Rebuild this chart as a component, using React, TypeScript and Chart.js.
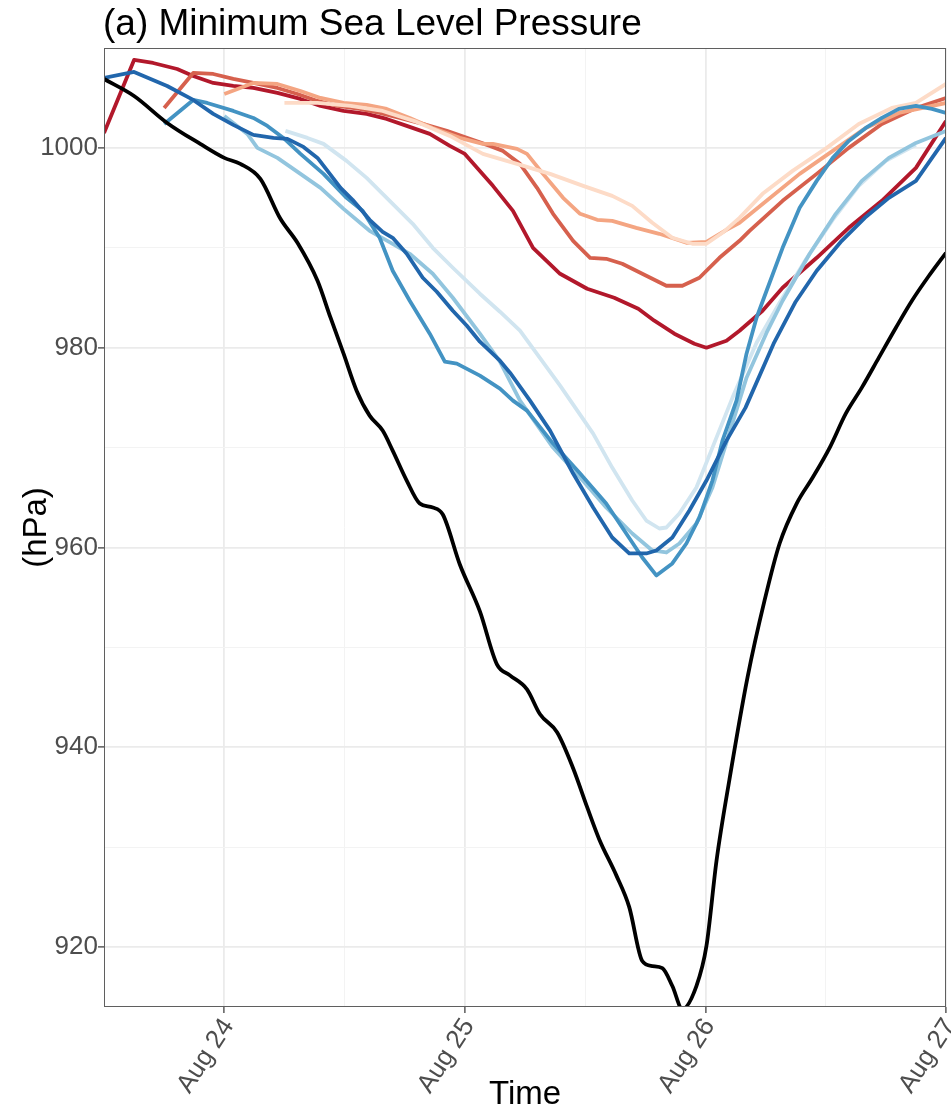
import React, { useEffect, useRef } from 'react';
import { Chart, registerables } from 'chart.js';

Chart.register(...registerables);

// ---------- data (hours relative to Aug 24 00:00, MSLP in hPa) ----------
const xTickHours = [0, 24, 48, 72];
const xTickLabels = ['Aug 24', 'Aug 25', 'Aug 26', 'Aug 27'];
const yTickValues = [920, 940, 960, 980, 1000];

const obsHours = [-12, -9, -5.7, -2.4, 0, 1.6, 3.6, 5.6, 7.3, 9.3, 10.6, 11.9, 13.2, 14.5, 15.8, 16.8, 18.2, 19.5, 20.8, 21.8, 23.5, 25.5, 27.2, 28.5, 30.2, 31.5, 33.2, 34.8, 36.2, 37.4, 39.1, 40.4, 41.7, 42.7, 43.7, 44.7, 45.7, 47.1, 48.1, 49.1, 50.4, 52.2, 53.9, 55.4, 57.1, 58.7, 60.4, 62.0, 63.6, 65.3, 67.0, 68.6, 70.3, 72];
const obsMslp = [1006.9, 1005.2, 1002.5, 1000.4, 999.0, 998.4, 996.9, 992.9, 990.5, 986.7, 983.0, 979.4, 975.7, 973.2, 971.7, 969.7, 966.7, 964.4, 964.0, 963.3, 958.3, 953.6, 948.3, 947.2, 945.8, 943.3, 941.5, 937.9, 934.0, 930.8, 927.2, 924.0, 918.6, 918.1, 917.9, 916.1, 913.8, 916.1, 920.1, 928.6, 936.8, 947.0, 954.7, 960.4, 964.4, 967.0, 970.0, 973.4, 976.0, 979.0, 982.0, 984.7, 987.2, 989.5];

const darkRedHours = [-12, -9, -7.1, -4.7, -3.1, -1.1, 0.9, 2.9, 5.3, 7.6, 9.6, 11.9, 14.2, 16.2, 18.2, 20.5, 22.5, 24.0, 26.8, 28.8, 30.8, 33.5, 36.2, 38.9, 41.3, 42.9, 44.9, 46.9, 48.1, 50.1, 51.4, 53.7, 55.7, 59.1, 62.3, 65.6, 69.0, 72];
const darkRedMslp = [1001.5, 1008.8, 1008.5, 1007.9, 1007.2, 1006.5, 1006.2, 1006.0, 1005.5, 1004.9, 1004.2, 1003.7, 1003.4, 1002.9, 1002.2, 1001.4, 1000.2, 999.4, 996.2, 993.7, 990.0, 987.4, 985.9, 985.0, 983.9, 982.7, 981.4, 980.4, 980.0, 980.7, 981.7, 983.7, 986.0, 989.0, 992.0, 994.7, 998.0, 1002.7];

const midRedHours = [-6, -3.1, -1.1, 0.9, 2.9, 5.3, 7.3, 9.3, 11.3, 13.5, 15.5, 17.5, 19.8, 22.2, 24.2, 26.5, 27.8, 29.5, 31.2, 32.8, 34.8, 36.5, 38.1, 39.7, 42.1, 44.1, 45.7, 47.4, 49.4, 51.4, 52.4, 55.7, 59.1, 62.3, 65.6, 69.0, 72];
const midRedMslp = [1004.0, 1007.5, 1007.4, 1006.9, 1006.5, 1006.0, 1005.4, 1004.7, 1004.2, 1003.9, 1003.5, 1003.0, 1002.4, 1001.7, 1001.0, 1000.2, 999.7, 998.4, 996.0, 993.4, 990.7, 989.0, 988.9, 988.4, 987.2, 986.2, 986.2, 987.0, 989.0, 990.7, 991.7, 994.7, 997.4, 1000.0, 1002.4, 1004.0, 1005.0];

const lightRedHours = [0, 2.9, 5.3, 7.6, 9.6, 11.9, 14.2, 16.2, 18.5, 20.8, 23.5, 25.8, 26.8, 29.2, 30.2, 31.8, 33.8, 35.5, 37.2, 38.7, 41.1, 43.4, 46.1, 48.1, 50.1, 51.4, 54.1, 57.4, 60.7, 64.0, 67.3, 72];
const lightRedMslp = [1005.4, 1006.5, 1006.4, 1005.7, 1005.0, 1004.5, 1004.3, 1003.9, 1003.0, 1002.0, 1001.0, 1000.4, 1000.4, 999.9, 999.4, 997.4, 995.0, 993.4, 992.8, 992.7, 992.0, 991.4, 990.5, 990.6, 991.8, 992.5, 994.7, 997.4, 999.7, 1002.0, 1003.5, 1004.5];

const palestRedHours = [6, 9.3, 12.6, 15.8, 19.2, 22.5, 25.8, 29.2, 32.5, 35.8, 38.7, 40.7, 42.7, 44.7, 46.7, 48.1, 49.7, 51.4, 53.7, 56.7, 60.1, 63.3, 66.6, 69.0, 72];
const palestRedMslp = [1004.5, 1004.5, 1004.2, 1003.7, 1002.6, 1001.2, 999.4, 998.4, 997.4, 996.2, 995.2, 994.2, 992.5, 991.0, 990.4, 990.4, 991.5, 993.0, 995.4, 997.7, 1000.0, 1002.4, 1004.0, 1004.5, 1006.4];

const palestBlueHours = [6.1, 8.3, 9.9, 12.2, 14.2, 16.5, 18.8, 20.8, 22.8, 25.5, 27.5, 29.5, 33.5, 36.8, 38.7, 40.7, 42.1, 43.4, 44.1, 45.4, 47.1, 48.7, 50.7, 53.1, 55.4, 58.0, 60.7, 63.3, 66.0, 69.0];
const palestBlueMslp = [1001.7, 1001.0, 1000.4, 998.7, 997.0, 994.7, 992.4, 990.0, 988.0, 985.4, 983.6, 981.7, 976.2, 971.4, 968.0, 964.7, 962.7, 961.9, 962.0, 963.4, 966.0, 970.0, 975.0, 980.5, 984.5, 988.8, 992.8, 996.2, 998.7, 1000.3];

const lightBlueHours = [0, 0.9, 2.3, 3.3, 5.3, 7.6, 9.6, 11.9, 14.5, 16.8, 18.5, 20.8, 22.8, 25.5, 27.5, 29.5, 32.8, 35.5, 38.1, 40.7, 42.7, 44.1, 45.4, 47.1, 48.7, 50.4, 52.1, 54.1, 55.7, 58.4, 61.0, 63.6, 66.3, 69.0, 72];
const lightBlueMslp = [1003.2, 1002.5, 1001.4, 1000.0, 999.0, 997.4, 996.0, 993.9, 991.7, 990.4, 989.4, 987.4, 985.0, 981.4, 978.6, 974.7, 970.0, 967.0, 964.0, 961.4, 959.7, 959.5, 960.4, 962.4, 966.0, 971.5, 977.0, 981.5, 984.7, 989.4, 993.4, 996.7, 999.0, 1000.5, 1001.7];

const midBlueHours = [-6, -3.1, -1.7, 0.9, 2.9, 4.3, 5.9, 7.6, 9.9, 12.2, 13.8, 15.5, 16.8, 18.5, 20.5, 22.0, 23.2, 25.5, 27.5, 28.8, 30.2, 32.8, 35.5, 38.1, 40.1, 41.7, 43.1, 44.7, 46.1, 47.4, 48.7, 49.7, 51.1, 52.1, 53.1, 54.1, 55.7, 57.4, 59.1, 60.7, 62.3, 64.0, 65.6, 67.3, 69.0, 70.6, 72];
const midBlueMslp = [1002.4, 1004.8, 1004.5, 1003.7, 1003.0, 1002.2, 1001.0, 999.4, 997.4, 995.0, 993.7, 991.0, 987.7, 984.7, 981.4, 978.6, 978.4, 977.2, 975.9, 974.7, 973.7, 970.4, 967.4, 964.4, 961.4, 959.0, 957.2, 958.4, 960.4, 963.0, 966.7, 970.7, 974.7, 979.4, 983.0, 985.7, 990.0, 994.0, 996.7, 999.0, 1000.7, 1002.0, 1003.0, 1003.9, 1004.2, 1003.9, 1003.5];

const darkBlueHours = [-12, -9, -5.7, -3.1, -1.1, 0.9, 2.9, 4.9, 6.3, 7.9, 9.3, 10.3, 11.6, 12.8, 14.5, 15.8, 16.8, 18.2, 19.8, 21.2, 22.8, 24.2, 25.5, 27.5, 28.5, 30.5, 32.5, 34.8, 36.8, 38.7, 40.4, 42.1, 43.1, 44.7, 46.4, 48.1, 50.1, 52.0, 54.8, 57.0, 59.1, 61.6, 63.9, 66.3, 69.0, 72];
const darkBlueMslp = [1007.0, 1007.6, 1006.2, 1004.8, 1003.4, 1002.3, 1001.3, 1001.0, 1000.9, 1000.1, 999.0, 997.7, 996.0, 994.8, 992.8, 991.6, 991.0, 989.4, 987.0, 985.6, 983.7, 982.2, 980.6, 978.7, 977.5, 974.7, 971.7, 967.4, 964.0, 961.0, 959.4, 959.4, 959.7, 961.0, 963.7, 966.7, 970.7, 974.0, 980.4, 984.6, 987.7, 990.7, 993.0, 995.0, 996.7, 1001.0];

// ---------- styles ----------
const FONT = '"Liberation Sans", Arial, Helvetica, sans-serif';
const seriesList = [
  { label: 'Observed', hours: obsHours, values: obsMslp, color: '#000000', smooth: true },
  { label: 'Run 1 (blue)', hours: darkBlueHours, values: darkBlueMslp, color: '#2166AC', smooth: false },
  { label: 'Run 2 (blue)', hours: midBlueHours, values: midBlueMslp, color: '#4393C3', smooth: false },
  { label: 'Run 3 (blue)', hours: lightBlueHours, values: lightBlueMslp, color: '#92C5DE', smooth: false },
  { label: 'Run 4 (blue)', hours: palestBlueHours, values: palestBlueMslp, color: '#D1E5F0', smooth: false },
  { label: 'Run 4 (red)', hours: palestRedHours, values: palestRedMslp, color: '#FDDBC7', smooth: false },
  { label: 'Run 3 (red)', hours: lightRedHours, values: lightRedMslp, color: '#F4A582', smooth: false },
  { label: 'Run 2 (red)', hours: midRedHours, values: midRedMslp, color: '#D6604D', smooth: false },
  { label: 'Run 1 (red)', hours: darkRedHours, values: darkRedMslp, color: '#B2182B', smooth: false },
];

const zip = (h: number[], v: number[]) => {
  const n = Math.min(h.length, v.length);
  const out: { x: number; y: number }[] = [];
  for (let i = 0; i < n; i++) out.push({ x: h[i], y: v[i] });
  return out;
};

const textPlugin = {
  id: 'textAndFrame',
  afterDatasetsDraw(chart: any) {
    const { ctx, chartArea: a } = chart;
    ctx.save();
    ctx.strokeStyle = '#5f5f5f';
    ctx.lineWidth = 1;
    ctx.strokeRect(a.left + 0.5, a.top + 0.5, a.right - a.left - 1, a.bottom - a.top - 1);
    ctx.restore();
  },
  afterDraw(chart: any) {
    const { ctx, chartArea: a } = chart;
    ctx.save();
    ctx.fillStyle = '#000000';
    ctx.font = `37px ${FONT}`;
    ctx.textAlign = 'left';
    ctx.textBaseline = 'alphabetic';
    ctx.fillText('(a) Minimum Sea Level Pressure', a.left - 1, 35);

    ctx.font = `33px ${FONT}`;
    ctx.textAlign = 'center';
    ctx.fillText('Time', (a.left + a.right) / 2, 1104);

    ctx.translate(46, (a.top + a.bottom) / 2);
    ctx.rotate(-Math.PI / 2);
    ctx.fillText('(hPa)', 0, 0);
    ctx.restore();
  },
};

export default function App() {
  const canvasRef = useRef<HTMLCanvasElement | null>(null);

  useEffect(() => {
    const canvas = canvasRef.current;
    if (!canvas) return;

    const datasets = seriesList.map((s) => ({
      label: s.label,
      data: zip(s.hours, s.values),
      borderColor: s.color,
      backgroundColor: s.color,
      borderWidth: 3.8,
      pointRadius: 0,
      pointHoverRadius: 0,
      fill: false,
      tension: 0,
      cubicInterpolationMode: s.smooth ? 'monotone' : 'default',
      borderJoinStyle: 'round',
      clip: 0,
    }));

    const isMajorX = (v: number) => xTickHours.indexOf(v) >= 0;
    const isMajorY = (v: number) => yTickValues.indexOf(v) >= 0;

    const chart = new Chart(canvas, {
      type: 'line',
      data: { datasets: datasets as any },
      plugins: [textPlugin as any],
      options: {
        responsive: false,
        animation: false,
        devicePixelRatio: 1,
        parsing: false as any,
        layout: { padding: { top: 48, right: 5, bottom: 0, left: 0 } },
        plugins: {
          legend: { display: false },
          title: { display: false },
          tooltip: { enabled: false },
        },
        scales: {
          x: {
            type: 'linear',
            min: -12,
            max: 72,
            afterBuildTicks: (scale: any) => {
              const t = [];
              for (let v = -12; v <= 72; v += 12) t.push({ value: v });
              scale.ticks = t;
            },
            afterFit: (scale: any) => {
              scale.height = 102;
              scale.paddingLeft = 0;
              scale.paddingRight = 0;
            },
            border: { display: false },
            grid: {
              color: (c: any) => (isMajorX(c.tick?.value) ? '#EBEBEB' : '#F3F3F3'),
              lineWidth: (c: any) => (isMajorX(c.tick?.value) ? 1.8 : 1),
              tickColor: (c: any) => (isMajorX(c.tick?.value) ? '#333333' : 'rgba(0,0,0,0)'),
              tickWidth: 1.2,
              tickLength: 6,
              drawTicks: true,
            },
            ticks: {
              autoSkip: false,
              minRotation: 57,
              maxRotation: 57,
              padding: 0,
              labelOffset: 4,
              color: '#4D4D4D',
              font: { family: FONT, size: 26 },
              callback: (v: any) => {
                const i = xTickHours.indexOf(Number(v));
                return i >= 0 ? xTickLabels[i] : '';
              },
            },
          },
          y: {
            type: 'linear',
            min: 914,
            max: 1010,
            afterBuildTicks: (scale: any) => {
              const t = [];
              for (let v = 920; v <= 1010; v += 10) t.push({ value: v });
              scale.ticks = t;
            },
            afterFit: (scale: any) => {
              scale.width = 104;
              scale.paddingTop = 0;
              scale.paddingBottom = 0;
            },
            border: { display: false },
            grid: {
              color: (c: any) => (isMajorY(c.tick?.value) ? '#EBEBEB' : '#F3F3F3'),
              lineWidth: (c: any) => (isMajorY(c.tick?.value) ? 1.8 : 1),
              tickColor: (c: any) => (isMajorY(c.tick?.value) ? '#333333' : 'rgba(0,0,0,0)'),
              tickWidth: 1.2,
              tickLength: 6,
              drawTicks: true,
            },
            ticks: {
              autoSkip: false,
              padding: 0,
              color: '#4D4D4D',
              font: { family: FONT, size: 26 },
              callback: (v: any) => (isMajorY(Number(v)) ? String(v) : ''),
            },
          },
        },
      } as any,
    });

    return () => chart.destroy();
  }, []);

  return (
    <div style={{ position: 'absolute', left: 0, top: 0, width: 951, height: 1109, background: '#ffffff' }}>
      <canvas ref={canvasRef} width={951} height={1109} style={{ display: 'block', width: 951, height: 1109 }} />
    </div>
  );
}
